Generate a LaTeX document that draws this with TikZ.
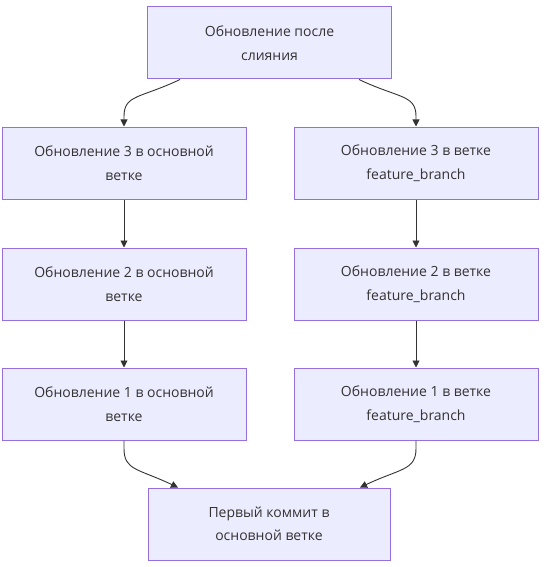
\documentclass[tikz,border=0pt]{standalone}
\usepackage{fontspec}
\setmainfont{Open Sans}
\usetikzlibrary{arrows.meta,calc}
\definecolor{boxfill}{HTML}{ECECFF}
\definecolor{boxline}{HTML}{9370DB}
\definecolor{ink}{HTML}{333333}
\tikzset{
  box/.style={draw=boxline, fill=boxfill, line width=1pt, minimum width=244pt, minimum height=72pt,
    align=center, text=ink, font=\fontsize{14pt}{23.5pt}\selectfont, inner sep=0pt},
  link/.style={draw=ink, line width=0.9pt, -{Triangle[length=7pt,width=7pt]}}
}
\begin{document}
\begin{tikzpicture}[x=1pt,y=-1pt]
\useasboundingbox (0,0) rectangle (546,567);
\node[box] (top) at (269.5,43) {Обновление после\\слияния};
\node[box] (l3) at (124,163) {Обновление 3 в основной\\ветке};
\node[box] (l2) at (124,284) {Обновление 2 в основной\\ветке};
\node[box] (l1) at (124,404) {Обновление 1 в основной\\ветке};
\node[box] (r3) at (416,163) {Обновление 3 в ветке\\feature\_branch};
\node[box] (r2) at (416,284) {Обновление 2 в ветке\\feature\_branch};
\node[box] (r1) at (416,404) {Обновление 1 в ветке\\feature\_branch};
\node[box, minimum width=242pt] (bot) at (269,524) {Первый коммит в\\основной ветке};
\draw[link] ([xshift=-89.5pt]top.south) .. controls ++(-40,19) and ++(0,-22) .. ([yshift=10pt]l3.north) -- (l3.north);
\draw[link] ([xshift=89.5pt]top.south) .. controls ++(40,19) and ++(0,-22) .. ([yshift=10pt]r3.north) -- (r3.north);
\draw[link] (l3) -- (l2);
\draw[link] (l2) -- (l1);
\draw[link] (r3) -- (r2);
\draw[link] (r2) -- (r1);
\draw[link] (l1.south) -- ++(0,8) .. controls ++(0,22) and ++(-40,-19) .. ([xshift=-91pt]bot.north);
\draw[link] (r1.south) -- ++(0,8) .. controls ++(0,22) and ++(40,-19) .. ([xshift=91pt]bot.north);
\end{tikzpicture}
\end{document}
